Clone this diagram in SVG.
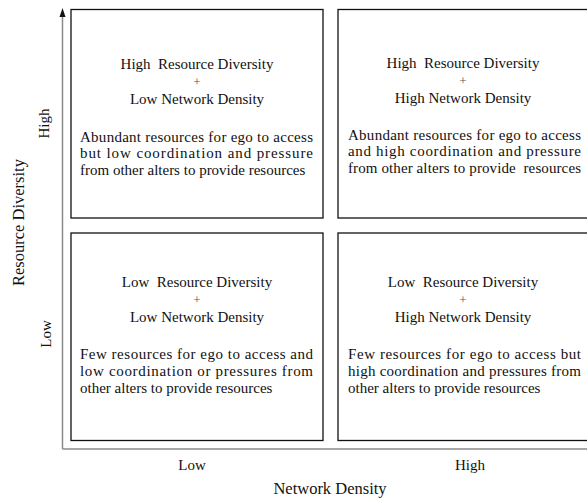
<svg xmlns="http://www.w3.org/2000/svg" width="587" height="500" viewBox="0 0 587 500">
<style>
text{font-family:"Liberation Serif","Times New Roman",serif;fill:#111;}
.h{font-size:15px;text-anchor:middle;white-space:pre;}
.p{font-size:13px;text-anchor:middle;fill:#555;}
.b{font-size:15px;white-space:pre;}
.ax{font-size:15px;text-anchor:middle;}
.title{font-size:16.5px;text-anchor:middle;}
.box{fill:#fff;stroke:#111;stroke-width:1.3;}
.axis{stroke:#8a8a8a;stroke-width:1.5;fill:none;}
</style>
<rect width="587" height="500" fill="#fff"/>
<g id="connectors">
<path class="axis" d="M62.5,449 L62.5,16"/>
<path d="M59.5,17 L62.5,8 L65.5,17 Z" fill="#111"/>
<path class="axis" d="M62.5,449 L587,449"/>
</g>
<g id="q-high-low">
<rect class="box" x="71" y="9.5" width="252" height="208.5"/>
<text class="h" x="197" y="69" xml:space="preserve">High  Resource Diversity</text>
<text class="p" x="197" y="86">+</text>
<text class="h" x="197" y="103.5">Low Network Density</text>
<text class="b" x="80" y="141.5" textLength="233" lengthAdjust="spacing">Abundant resources for ego to access</text>
<text class="b" x="80" y="158" textLength="233" lengthAdjust="spacing">but low coordination and pressure</text>
<text class="b" x="80" y="174.5">from other alters to provide resources</text>
</g>
<g id="q-high-high">
<rect class="box" x="338" y="9.5" width="260" height="208.5"/>
<text class="h" x="463" y="68" xml:space="preserve">High  Resource Diversity</text>
<text class="p" x="463" y="85">+</text>
<text class="h" x="463" y="102.5">High Network Density</text>
<text class="b" x="348" y="139.5" textLength="233" lengthAdjust="spacing">Abundant resources for ego to access</text>
<text class="b" x="348" y="156" textLength="233" lengthAdjust="spacing">and high coordination and pressure</text>
<text class="b" x="348" y="172.5" textLength="233" lengthAdjust="spacing" xml:space="preserve">from other alters to provide  resources</text>
</g>
<g id="q-low-low">
<rect class="box" x="71" y="233" width="252" height="207.5"/>
<text class="h" x="197" y="287" xml:space="preserve">Low  Resource Diversity</text>
<text class="p" x="197" y="304">+</text>
<text class="h" x="197" y="322">Low Network Density</text>
<text class="b" x="80" y="358.5" textLength="233" lengthAdjust="spacing">Few resources for ego to access and</text>
<text class="b" x="80" y="375.5" textLength="233" lengthAdjust="spacing">low coordination or pressures from</text>
<text class="b" x="80" y="392.5">other alters to provide resources</text>
</g>
<g id="q-low-high">
<rect class="box" x="338" y="233" width="260" height="207.5"/>
<text class="h" x="463" y="287" xml:space="preserve">Low  Resource Diversity</text>
<text class="p" x="463" y="304">+</text>
<text class="h" x="463" y="322">High Network Density</text>
<text class="b" x="348" y="358.5" textLength="233" lengthAdjust="spacing">Few resources for ego to access but</text>
<text class="b" x="348" y="375.5" textLength="233" lengthAdjust="spacing">high coordination and pressures from</text>
<text class="b" x="348" y="392.5">other alters to provide resources</text>
</g>
<g id="labels">
<text class="ax" transform="translate(49,123.5) rotate(-90)">High</text>
<text class="ax" transform="translate(51,334) rotate(-90)">Low</text>
<text class="title" transform="translate(24,222.5) rotate(-90)">Resource Diversity</text>
<text class="ax" x="192" y="470">Low</text>
<text class="ax" x="470" y="470">High</text>
<text class="title" x="330" y="494">Network Density</text>
</g>
</svg>
